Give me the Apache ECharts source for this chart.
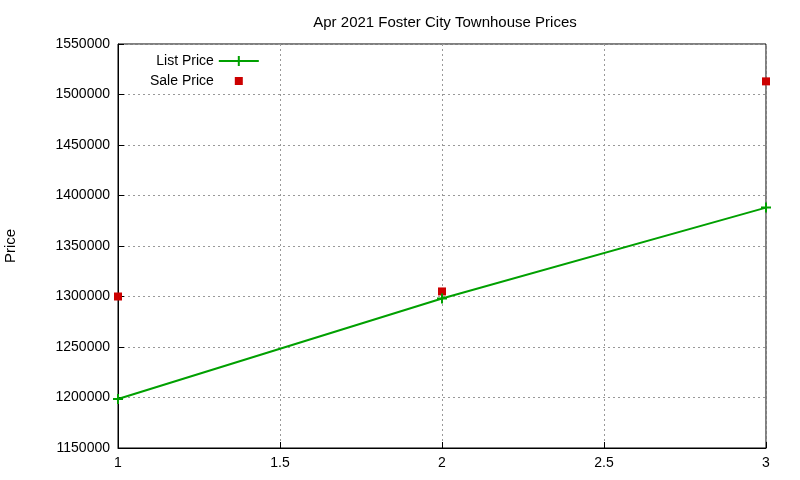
<!DOCTYPE html>
<html><head><meta charset="utf-8">
<script src="https://cdn.jsdelivr.net/npm/echarts@6/dist/echarts.min.js"></script>
<style>html,body{margin:0;padding:0;background:#fff}#c{width:800px;height:480px}</style>
</head><body><div id="c"></div>
<script>
const xValues = [1, 2, 3];
const listPrice = [1198500, 1298000, 1388000];
const salePrice = [1300000, 1305000, 1513000];
const chart = echarts.init(document.getElementById('c'));
const font = 'Liberation Sans, Arial, sans-serif';
chart.setOption({
  animation: false,
  title: {text: 'Apr 2021 Foster City Townhouse Prices', left: 440, top: 10, textAlign: 'center',
    textStyle: {fontSize: 15, fontWeight: 'normal', color: '#000', fontFamily: font}},
  legend: {orient: 'vertical', left: 145, top: 49, align: 'right', itemGap: 6, itemWidth: 40, itemHeight: 10,
    textStyle: {fontSize: 14, color: '#000', fontFamily: font},
    data: [
      {name: 'List Price', icon: 'path://M0,4L40,4L40,6L0,6Z M19,0L21,0L21,10L19,10Z', itemStyle: {color: '#00a000', opacity: 1}},
      {name: 'Sale Price', icon: 'path://M0,0L0.01,0L0.01,0.01Z M16,1L24,1L24,9L16,9Z M40,10L39.99,10L39.99,9.99Z', itemStyle: {color: '#cc0000', opacity: 1}}
    ]},
  grid: {left: 118, right: 34, top: 44, bottom: 32, outerBoundsMode: 'none', containLabel: false, show: true, borderColor: '#000', borderWidth: 1},
  xAxis: {type: 'value', min: 1, max: 3, interval: 0.5,
    axisLine: {lineStyle: {color: '#000'}}, axisTick: {inside: true, length: 6, lineStyle: {color: '#000'}},
    axisLabel: {color: '#000', fontSize: 14, fontFamily: font, margin: 8},
    splitLine: {show: true, lineStyle: {color: '#999', type: [2, 3]}}},
  yAxis: {type: 'value', min: 1150000, max: 1550000, interval: 50000, name: 'Price', nameLocation: 'middle', nameGap: 100,
    nameTextStyle: {fontSize: 15, color: '#000', fontFamily: font},
    axisLine: {show: true, lineStyle: {color: '#000'}}, axisTick: {inside: true, length: 6, lineStyle: {color: '#000'}},
    axisLabel: {color: '#000', fontSize: 14, fontFamily: font, margin: 8, formatter: v => String(v)},
    splitLine: {show: true, lineStyle: {color: '#999', type: [2, 3]}}},
  series: [
    {name: 'List Price', type: 'line', data: xValues.map((x, i) => [x, listPrice[i]]),
      symbol: 'path://M4,0L6,0L6,4L10,4L10,6L6,6L6,10L4,10L4,6L0,6L0,4L4,4Z', symbolSize: 10,
      lineStyle: {color: '#00a000', width: 2}, itemStyle: {color: '#00a000'}},
    {name: 'Sale Price', type: 'scatter', data: xValues.map((x, i) => [x, salePrice[i]]),
      symbol: 'rect', symbolSize: 8, itemStyle: {color: '#cc0000', opacity: 1}}
  ]
});
</script></body></html>
